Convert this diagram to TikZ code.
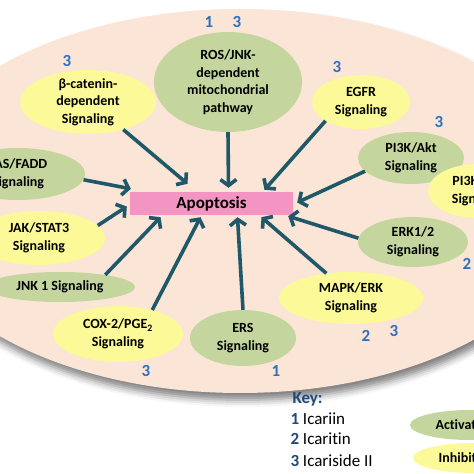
\documentclass[tikz,border=0pt]{standalone}
\usepackage{fontspec}
\setmainfont{Carlito}[Ligatures=NoCommon]
\usetikzlibrary{shapes.geometric, arrows.meta, shadows.blur}
\definecolor{peach}{RGB}{251,229,214}
\definecolor{actgreen}{RGB}{196,214,158}
\definecolor{inhyellow}{RGB}{252,250,152}
\definecolor{apopink}{RGB}{244,148,194}
\definecolor{arrteal}{RGB}{31,88,104}
\definecolor{numblue}{RGB}{48,112,192}
\definecolor{keyblue}{RGB}{31,73,125}

\begin{document}
\begin{tikzpicture}[x=1pt, y=1pt,
    txt/.style={align=center, font=\bfseries\fontsize{14}{17.5}\selectfont},
    act/.style={ellipse, fill=actgreen, inner sep=0pt},
    inh/.style={ellipse, fill=inhyellow, inner sep=0pt},
    arr/.style={draw=arrteal, line width=3.6pt, -{Straight Barb[length=6pt, width=16pt]}},
    num/.style={text=numblue, font=\bfseries\fontsize{17}{17}\selectfont}]
    \useasboundingbox (0,0) rectangle (474,474);
    \clip (0,0) rectangle (474,474);

    % background
    \fill[peach, blur shadow={shadow xshift=3pt, shadow yshift=-7pt, shadow blur radius=7pt, shadow opacity=50}]
    (240,273) ellipse (338pt and 192pt);

    % pathways
    \node[act, minimum width=148pt, minimum height=100pt,
        label={[txt]center:{ROS/JNK-\\dependent\\mitochondrial\\pathway}}] (ros) at (228,392) {};
    \node[inh, minimum width=136pt, minimum height=64pt,
        label={[txt]center:{β-catenin-\\dependent\\Signaling}}] (bcat) at (88,372) {};
    \node[inh, minimum width=98pt, minimum height=54pt,
        label={[txt]center:{EGFR\\Signaling}}] (egfr) at (361,372) {};
    \node[act, minimum width=106pt, minimum height=52pt,
        label={[txt]center:{PI3K/Akt\\Signaling}}] (pik) at (411,316) {};
    \node[inh, minimum width=100pt, minimum height=54pt,
        label={[txt]center:{PI3K/Akt\\Signaling}}] (pikb) at (478,283) {};
    \node[act, minimum width=134pt, minimum height=52pt,
        label={[txt]center:{FAS/FADD\\Signaling}}] (fas) at (18,300) {};
    \node[inh, minimum width=132pt, minimum height=54pt,
        label={[txt]center:{JAK/STAT3\\Signaling}}] (jak) at (39,236) {};
    \node[act, minimum width=150pt, minimum height=30pt,
        label={[txt]center:{JNK 1 Signaling}}] (jnk) at (60,187) {};
    \node[inh, minimum width=130pt, minimum height=56pt,
        label={[txt]center:{COX-2/PGE\textsubscript{2}\\Signaling}}] (cox) at (118,140) {};
    \node[act, minimum width=106pt, minimum height=56pt,
        label={[txt]center:{ERS\\Signaling}}] (ers) at (243,136) {};
    \node[inh, minimum width=144pt, minimum height=52pt,
        label={[txt]center:{MAPK/ERK\\Signaling}}] (mapk) at (351,176) {};
    \node[act, minimum width=110pt, minimum height=50pt,
        label={[txt]center:{ERK1/2\\Signaling}}] (erk) at (413,232) {};

    \node[rectangle, fill=apopink, minimum width=163pt, minimum height=23pt,
        font=\bfseries\fontsize{17}{17}\selectfont] (apo) at (211.5,270.5) {Apoptosis};

    % arrows
    \draw[arr] (bcat.-38) to ([xshift=-24pt, yshift=8pt]apo.north);
    \draw[arr] (ros.south) to ([xshift=17pt, yshift=4pt]apo.north);
    \draw[arr] (egfr.208) to ([xshift=53pt, yshift=2pt]apo.north);
    \draw[arr] (pik.196) to ([xshift=4pt, yshift=1pt]apo.east);
    \draw[arr] (erk.176) to ([xshift=-5pt, yshift=-1pt]apo.south east);
    \draw[arr] (mapk.135) to ([xshift=50pt, yshift=-2pt]apo.south);
    \draw[arr] (ers.north) to ([xshift=26pt, yshift=-2pt]apo.south);
    \draw[arr] (cox.35) to ([xshift=-11pt, yshift=-2pt]apo.south);
    \draw[arr] (jnk.15) to ([xshift=-51pt, yshift=-2pt]apo.south);
    \draw[arr] (jak.12) to ([xshift=-3pt, yshift=-3pt]apo.west);
    \draw[arr] (fas.-5) to ([xshift=1pt, yshift=3pt]apo.north west);

    % compounds
    \node[num] (n1) at (209,452) {1};
    \node[num] (n2) at (237,452) {3};
    \node[num] (n3) at (67,413) {3};
    \node[num] (n4) at (337,407) {3};
    \node[num] (n5) at (439,352) {3};
    \node[num] (n6) at (467,210) {2};
    \node[num] (n7) at (366,138) {2};
    \node[num] (n8) at (394,143) {3};
    \node[num] (n9) at (276,103) {1};
    \node[num] (n10) at (146,103) {3};

    % key
    \node[anchor=west, text=keyblue, font=\bfseries\fontsize{17}{17}\selectfont] (key) at (289,75) {Key:};
    \node[anchor=west, font=\fontsize{17}{17}\selectfont] (k1) at (287,55) {\textcolor{keyblue}{\textbf{1}} Icariin};
    \node[anchor=west, font=\fontsize{17}{17}\selectfont] (k2) at (287,35) {\textcolor{keyblue}{\textbf{2}} Icaritin};
    \node[anchor=west, font=\fontsize{17}{17}\selectfont] (k3) at (287,13) {\textcolor{keyblue}{\textbf{3}} Icariside II};

    \node[act, minimum width=120pt, minimum height=30pt] (kact) at (470,49) {};
    \node[txt, anchor=west] (kacttxt) at (432,49) {Activation};
    \node[inh, minimum width=120pt, minimum height=30pt] (kinh) at (473,16) {};
    \node[txt, anchor=west] (kinhtxt) at (435,16) {Inhibition};

\end{tikzpicture}
\end{document}
